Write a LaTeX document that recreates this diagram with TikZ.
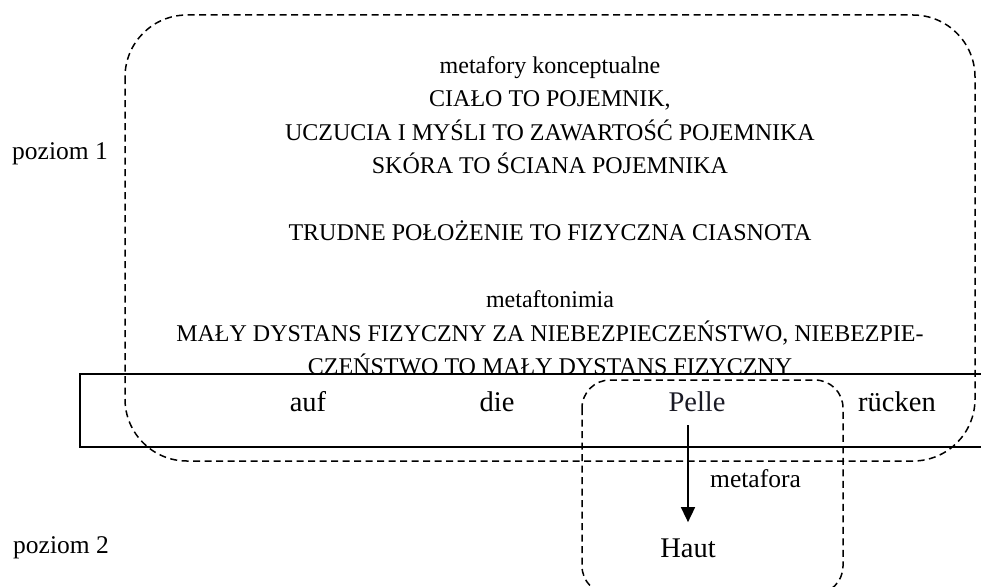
\documentclass[tikz,border=0pt]{standalone}
\usepackage{fontspec}
\setmainfont{Liberation Serif}
\usepackage{xcolor}
\usetikzlibrary{arrows.meta,positioning,calc}

\definecolor{pellecol}{rgb}{0.1,0.1,0.14}

\begin{document}
\begin{tikzpicture}[x=1pt,y=-1pt,
    line/.style={font=\fontsize{24}{33.5}\selectfont,anchor=base,inner sep=0pt},
    level/.style={font=\fontsize{25.5}{30}\selectfont,anchor=base,inner sep=0pt},
    word/.style={font=\fontsize{28.5}{32}\selectfont,anchor=base,inner sep=0pt},
    frame/.style={line width=1.5pt,dash pattern=on 7pt off 4.5pt},
    strip/.style={line width=1.5pt},
    use/.style={-{Triangle[width=14pt,length=15pt]},line width=1.6pt}
  ]
    \useasboundingbox (0,0) rectangle (981,586);
    \clip (0,0) rectangle (981,586);

    % sentence strip and the two frames
    \draw[strip] (80,374) rectangle (1000,447);
    \draw[frame,rounded corners=62pt] (125,15) rectangle (975,461);
    \draw[frame,rounded corners=28pt] (582,380) rectangle (843,594);

    % level 1: conceptual metaphors
    \node[line] (m1) at (550,73) {metafory konceptualne};
    \node[line] (m2) at (550,106.5) {CIAŁO TO POJEMNIK,};
    \node[line] (m3) at (550,140) {UCZUCIA I MYŚLI TO ZAWARTOŚĆ POJEMNIKA};
    \node[line] (m4) at (550,173.5) {SKÓRA TO ŚCIANA POJEMNIKA};
    \node[line] (m5) at (550,240.5) {TRUDNE POŁOŻENIE TO FIZYCZNA CIASNOTA};
    \node[line] (m6) at (550,307.5) {metaftonimia};
    \node[line] (m7) at (550,341) {MAŁY DYSTANS FIZYCZNY ZA NIEBEZPIECZEŃSTWO, NIEBEZPIE-};
    \node[line] (m8) at (550,374.5) {CZEŃSTWO TO MAŁY DYSTANS FIZYCZNY};

    \node[level] (lev1) at (60,159) {poziom 1};
    \node[level] (lev2) at (61,553) {poziom 2};

    % the idiom
    \node[word] (auf) at (308,411) {auf};
    \node[word] (die) at (497,411) {die};
    \node[word,text=pellecol] (pelle) at (697,411) {Pelle};
    \node[word] (ruecken) at (897,411) {rücken};

    % level 2
    \node[word] (haut) at (688,557) {Haut};
    \draw[use,shorten <=14pt,shorten >=16pt] (haut.north |- pelle.south) -- (haut.north);
    \node[level,anchor=base west] (meta) at (710,487) {metafora};
  \end{tikzpicture}
\end{document}
